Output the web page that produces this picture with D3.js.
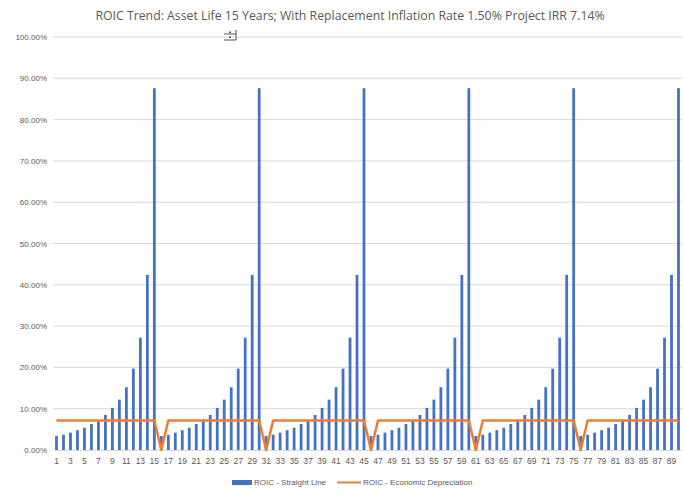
<!DOCTYPE html>
<html>
<head>
<meta charset="utf-8">
<script src="https://cdn.jsdelivr.net/npm/d3@7"></script>
<style>
  html, body { margin: 0; padding: 0; background: #fff; }
  svg { display: block; font-family: "Liberation Sans Narrow", "Open Sans", "Liberation Sans", sans-serif; }
</style>
</head>
<body>
<svg id="chart" width="684" height="495"></svg>
<script>
// One asset cycle (15 years) of straight-line ROIC, in percent
const cycleStraight = [3.4, 3.7, 4.2, 4.8, 5.4, 6.3, 7.0, 8.5, 10.2, 12.2, 15.2, 19.7, 27.2, 42.4, 87.6];
const cycles = 6;
const periods = d3.range(1, cycles * 15 + 1);
const straightLine = periods.map(p => cycleStraight[(p - 1) % 15]);
// Economic depreciation ROIC equals the project IRR, dropping to zero in each replacement year
const projectIRR = 7.14;
const replacementYears = [16, 31, 46, 61, 76];
const economic = periods.map(p => replacementYears.includes(p) ? 0 : projectIRR);
const yTicks = d3.range(0, 101, 10);
const xTickLabels = periods.filter(p => p % 2 === 1);
const seriesNames = ["ROIC - Straight Line", "ROIC - Economic Depreciation"];
const titleText = "ROIC Trend: Asset Life 15 Years; With Replacement Inflation Rate 1.50% Project IRR 7.14%";

const blue = "#4472C4", orange = "#ED7D31";
const svg = d3.select("#chart");
const margin = { left: 53, right: 2, top: 37, bottom: 45 };
const W = 684, H = 495;

const x = d3.scaleBand().domain(periods).range([margin.left, W - margin.right]).paddingInner(0.6).paddingOuter(0.3);
const y = d3.scaleLinear().domain([0, 100]).range([H - margin.bottom, margin.top]);

// Title
svg.append("text").attr("x", 350).attr("y", 20).attr("text-anchor", "middle")
  .attr("font-size", 12.3).attr("fill", "#595959").text(titleText);

// Gridlines
svg.append("g").selectAll("line").data(yTicks.filter(t => t > 0)).join("line")
  .attr("x1", margin.left).attr("x2", W - margin.right)
  .attr("y1", d => y(d)).attr("y2", d => y(d))
  .attr("stroke", "#d9d9d9").attr("stroke-width", 1);

// Y axis labels
const yAxis = d3.axisLeft(y).tickValues(yTicks).tickSize(0).tickPadding(6)
  .tickFormat(d => d.toFixed(2) + "%");
svg.append("g").attr("transform", `translate(${margin.left},0)`).call(yAxis)
  .call(g => g.select(".domain").remove())
  .call(g => g.selectAll("text").attr("font-size", 8).attr("fill", "#595959")
    .attr("font-family", "'Liberation Sans Narrow', 'Liberation Sans', sans-serif"));

// Bars
svg.append("g").selectAll("rect").data(periods).join("rect")
  .attr("x", p => x(p)).attr("width", x.bandwidth())
  .attr("y", (p, i) => y(straightLine[i]))
  .attr("height", (p, i) => y(0) - y(straightLine[i]))
  .attr("fill", blue);

// X axis
const xAxis = d3.axisBottom(x).tickValues(xTickLabels).tickSize(0).tickPadding(8);
svg.append("g").attr("transform", `translate(0,${y(0)})`).call(xAxis)
  .call(g => g.select(".domain").attr("stroke", "#d9d9d9"))
  .call(g => g.selectAll("text").attr("font-size", 8.5).attr("fill", "#595959")
    .attr("font-family", "'Liberation Sans Narrow', 'Liberation Sans', sans-serif"));

// Economic depreciation line
const line = d3.line().x((p, i) => x(periods[i]) + x.bandwidth() / 2).y(d => y(d));
svg.append("path").datum(economic).attr("d", line)
  .attr("fill", "none").attr("stroke", orange).attr("stroke-width", 2.5)
  .attr("stroke-linejoin", "round");

// Small chart-element glyph near the top
const glyph = svg.append("g").attr("transform", "translate(224,30)").attr("stroke", "#555").attr("fill", "none");
glyph.append("line").attr("x1", 0).attr("x2", 12).attr("y1", 4).attr("y2", 4);
glyph.append("line").attr("x1", 0).attr("x2", 12).attr("y1", 10).attr("y2", 10);
glyph.append("line").attr("x1", 12).attr("x2", 12).attr("y1", 0).attr("y2", 10);
glyph.append("rect").attr("x", 5).attr("y", 1.5).attr("width", 2).attr("height", 1.5).attr("fill", "#555").attr("stroke", "none");
glyph.append("rect").attr("x", 5).attr("y", 6.5).attr("width", 2).attr("height", 1.5).attr("fill", "#555").attr("stroke", "none");

// Legend
const legend = svg.append("g").attr("font-size", 8).attr("fill", "#595959")
  .attr("font-family", "'Liberation Sans Narrow', 'Liberation Sans', sans-serif");
legend.append("rect").attr("x", 232).attr("y", 480).attr("width", 20).attr("height", 5).attr("fill", blue);
legend.append("text").attr("x", 254).attr("y", 485).attr("fill", "#595959").text(seriesNames[0]);
legend.append("line").attr("x1", 337).attr("x2", 361).attr("y1", 482.5).attr("y2", 482.5)
  .attr("stroke", orange).attr("stroke-width", 2);
legend.append("text").attr("x", 363).attr("y", 485).attr("fill", "#595959").text(seriesNames[1]);
</script>
</body>
</html>
